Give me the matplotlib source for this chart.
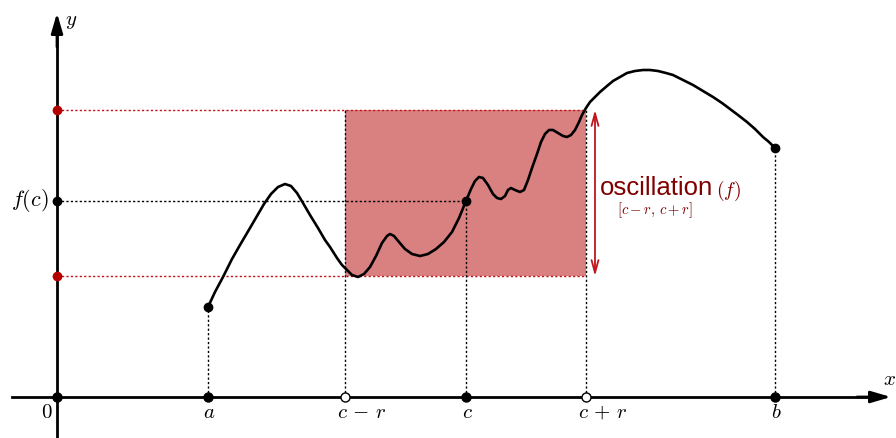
import matplotlib.pyplot as plt

plt.rcParams['mathtext.fontset'] = 'cm'

# pixel-like units, origin at the axes crossing
# x marks on the axis
x_marks = [151, 288, 409, 529, 718]
x_labels = [r'$a$', r'$c\,-\,r$', r'$c$', r'$c\,+\,r$', r'$b$']
x_open = [False, True, False, True, False]

# levels
f_c = 196
osc_top = 287
osc_bot = 121

# the curve
curve_px = [208, 215, 223, 232, 240, 250, 257, 264, 271, 278, 285, 291, 297, 303, 310,
            318, 325, 330, 337, 342, 347, 352, 358, 364, 370, 376, 382, 387, 390, 394,
            399, 405, 412, 420, 428, 436, 444, 452, 459, 466, 471, 475, 479, 483, 488,
            493, 497, 501, 505, 508, 511, 515, 520, 524, 528, 532, 537, 541, 545, 549,
            553, 558, 563, 567, 571, 575, 579, 582, 586, 590, 595, 600, 607, 613, 620, 627,
            635, 643, 650, 658, 666, 673, 683, 693, 703, 713, 722, 730, 738, 747, 755,
            763, 769, 775]
curve_py = [307, 292, 277, 259, 245, 228, 216, 204, 194, 187, 184, 186, 193, 203, 215,
            228, 240, 247, 258, 265, 270, 275, 277, 274, 267, 256, 243, 236, 234, 236,
            242, 249, 254, 256, 254, 249, 242, 232, 218, 201, 189, 181, 177, 178, 185,
            194, 198, 199, 196, 190, 188, 190, 192, 190, 180, 168, 154, 142, 134, 130,
            130, 133, 136, 137, 135, 130, 122, 115, 108, 102, 97, 92, 86, 81, 77, 73,
            71, 70, 70, 71, 73, 75, 80, 85, 91, 97, 103, 109, 115, 122, 129,
            137, 142, 148]
curve_x = [p - 57 for p in curve_px]
curve_y = [397 - p for p in curve_py]

fig = plt.figure(figsize=(8.96, 4.38), dpi=100)
ax = fig.add_axes([0, 0, 1, 1])
ax.set_xlim(-57, 839)
ax.set_ylim(-41, 397)
ax.axis('off')

dot = dict(ls=(0, (1.6, 1.6)), lw=1.0)
red = '#c0141c'
dark_red = '#800000'

# oscillation box
ax.fill_between([x_marks[1], x_marks[3]], osc_bot, osc_top, color='#d98080', lw=0, zorder=1)

# guide lines
ax.plot([0, x_marks[3]], [osc_top, osc_top], color=red, **dot, zorder=2)
ax.plot([0, x_marks[3]], [osc_bot, osc_bot], color=red, **dot, zorder=2)
ax.plot([0, x_marks[2]], [f_c, f_c], color='k', **dot, zorder=2)
ax.plot([x_marks[0]] * 2, [0, curve_y[0]], color='k', **dot, zorder=2)
ax.plot([x_marks[1]] * 2, [0, osc_top], color='k', **dot, zorder=2)
ax.plot([x_marks[2]] * 2, [0, f_c], color='k', **dot, zorder=2)
ax.plot([x_marks[3]] * 2, [0, osc_top], color='k', **dot, zorder=2)
ax.plot([x_marks[4]] * 2, [0, curve_y[-1]], color='k', **dot, zorder=2)

# axes with arrows
arrow = dict(arrowstyle='-|>,head_length=1.2,head_width=0.35', color='k', lw=2,
             shrinkA=0, shrinkB=0)
ax.plot([-45, 820], [0, 0], color='k', lw=2.0, zorder=3)
ax.plot([0, 0], [-41, 365], color='k', lw=2.0, zorder=3)
ax.annotate('', xy=(834, 0), xytext=(800, 0), arrowprops=arrow, zorder=4)
ax.annotate('', xy=(0, 384), xytext=(0, 350), arrowprops=arrow, zorder=4)
ax.text(839, 8, r'$x$', fontsize=15, ha='right', va='bottom')
ax.text(8, 366, r'$y$', fontsize=15, ha='left', va='bottom')
ax.text(-4, -5, r'$0$', fontsize=15, ha='right', va='top')

# curve
ax.plot(curve_x, curve_y, color='k', lw=1.9, solid_capstyle='round',
        solid_joinstyle='round', zorder=5)
ax.plot([curve_x[0], x_marks[2], curve_x[-1]], [curve_y[0], f_c, curve_y[-1]],
        'o', color='k', ms=6, zorder=6)

# marks on the x axis, c-r and c+r keep their c under the mark
for xm, lab, op in zip(x_marks, x_labels, x_open):
    ax.plot(xm, 0, 'o', ms=6.5, mfc='white' if op else 'k', mec='k', mew=1.0, zorder=6)
    if op:
        ax.text(xm - 8, -5, lab, fontsize=15, ha='left', va='top')
    else:
        ax.text(xm + 1, -5, lab, fontsize=15, ha='center', va='top')
ax.plot(0, 0, 'o', color='k', ms=6.5, zorder=6)

# marks on the y axis
ax.plot([0, 0], [osc_top, osc_bot], 'o', color='#b40000', ms=6, zorder=6)
ax.plot(0, f_c, 'o', color='k', ms=6, zorder=6)
ax.text(-8, f_c, r'$f(c)$', fontsize=16, ha='right', va='center')

# oscillation arrow and label
ax.annotate('', xy=(538, osc_top), xytext=(538, osc_bot),
            arrowprops=dict(arrowstyle='<->,head_length=0.9,head_width=0.25', color=red, lw=1.3,
                            shrinkA=0, shrinkB=0), zorder=4)
ax.text(543, 202, 'oscillation', fontsize=18.5, family='Liberation Sans', color=dark_red,
        ha='left', va='baseline')
ax.text(659, 206, r'$(f)$', fontsize=14, color=dark_red, ha='left', va='center')
ax.text(560, 187, r'$[c-r,\,c+r]$', fontsize=10.5, color=dark_red, ha='left', va='center')

fig.savefig('out.png', dpi=100)
